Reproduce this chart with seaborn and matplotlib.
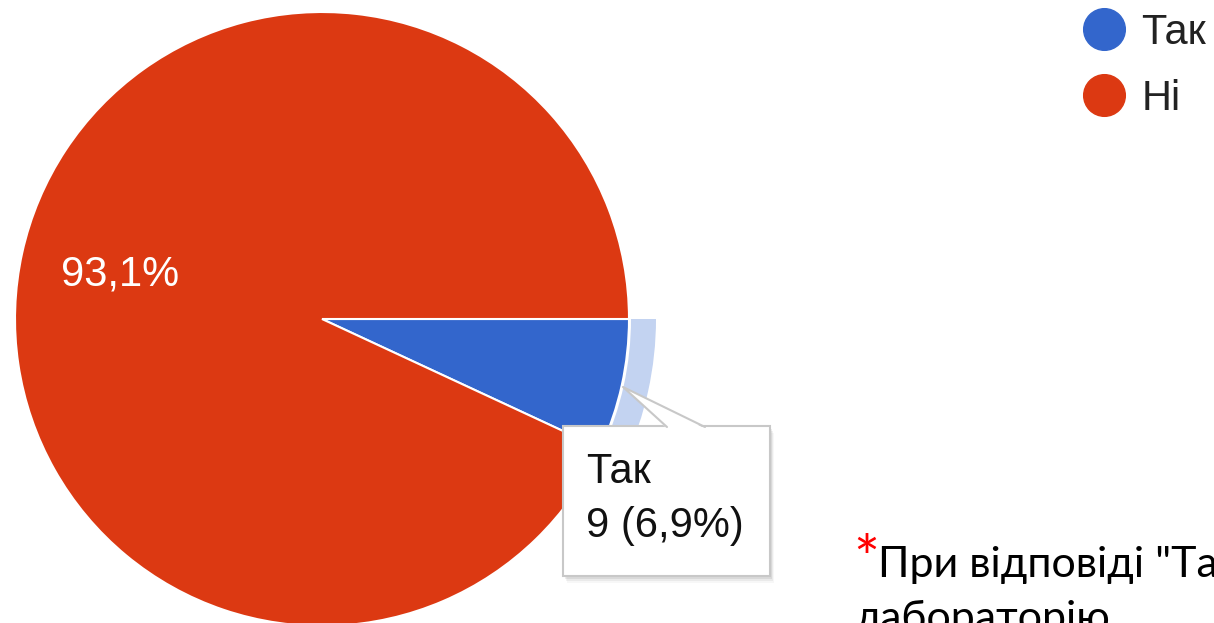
import matplotlib
matplotlib.use("Agg")
import matplotlib.pyplot as plt
import seaborn as sns
from matplotlib.patches import Rectangle, Polygon
from matplotlib.lines import Line2D

# survey answers (Google Forms pie)
answers = ["Так", "Ні"]
counts = [9, 121]
colors = ["#3366cc", "#dc3912"]
highlight = "#c3d3f1"
note_lines = ["При відповіді \"Так\"", "лабораторію"]

sns.set_style("white")
plt.rcParams["font.family"] = ["Liberation Sans", "DejaVu Sans"]

fig = plt.figure(figsize=(12.14, 6.23), dpi=100)
ax = fig.add_axes([0, 0, 1, 1])

total = sum(counts)


def fmt_pct(p):
    return f"{p:.1f}%".replace(".", ",")


def big_slice_label(p):
    # only the big slice gets its share printed inside
    return fmt_pct(p) if p > 50 else ""


# main pie (y axis is flipped below, so counterclock here = clockwise on screen)
ax.pie(counts, colors=colors, center=(322, 319), radius=307,
       startangle=0, counterclock=True, autopct=big_slice_label,
       pctdistance=0.675,
       wedgeprops=dict(edgecolor="white", linewidth=1.5),
       textprops=dict(color="white", fontsize=30))

# hover ring around the selected slice
ax.pie(counts, colors=[highlight, "none"], center=(322, 319), radius=334,
       startangle=0, counterclock=True,
       wedgeprops=dict(width=25, linewidth=0))

ax.set_xlim(0, 1214)
ax.set_ylim(623, 0)
ax.set_aspect("equal")
ax.set_axis_off()

# tooltip
bx, by, bw, bh = 563, 426, 207, 150
for off, a in [(7, 0.03), (5, 0.05), (3, 0.07)]:
    ax.add_patch(Rectangle((bx + off / 2, by + off), bw, bh, facecolor="black",
                           edgecolor="none", alpha=a, zorder=5))
ax.add_patch(Rectangle((bx, by), bw, bh, facecolor="white",
                       edgecolor="#c8c8c8", linewidth=1.5, zorder=6))
ax.add_patch(Polygon([(667, 428.5), (623, 387), (705, 428.5)], closed=True,
                     facecolor="white", edgecolor="none", zorder=7))
ax.plot([667, 623, 705], [427, 387, 427], color="#c8c8c8", lw=1.5, zorder=8)
ax.text(586, 483, answers[0], fontsize=30, color="#111111", va="baseline", zorder=9)
ax.text(586, 537, f"{counts[0]} ({fmt_pct(100 * counts[0] / total)})", fontsize=30,
        color="#111111", va="baseline", zorder=9)

# legend
handles = [Line2D([], [], marker="o", linestyle="none", markersize=30,
                  markerfacecolor=c, markeredgecolor=c) for c in colors]
leg = fig.legend(handles, answers, loc="upper left",
                 bbox_to_anchor=(1083 / 1214, 1 - 13 / 623), frameon=False,
                 fontsize=30, handlelength=1.0, handletextpad=0.4,
                 labelspacing=0.62, borderpad=0, borderaxespad=0)
for t in leg.get_texts():
    t.set_color("#222222")

# footnote
note_font = ["Lato", "DejaVu Sans"]
ax.text(853, 580, "*", color="red", fontsize=44, family=note_font, va="baseline")
ax.text(878, 577, note_lines[0], color="black", fontsize=31, family=note_font, va="baseline")
ax.text(855, 631, note_lines[1], color="black", fontsize=31, family=note_font, va="baseline")

fig.savefig("out.png", dpi=100)
